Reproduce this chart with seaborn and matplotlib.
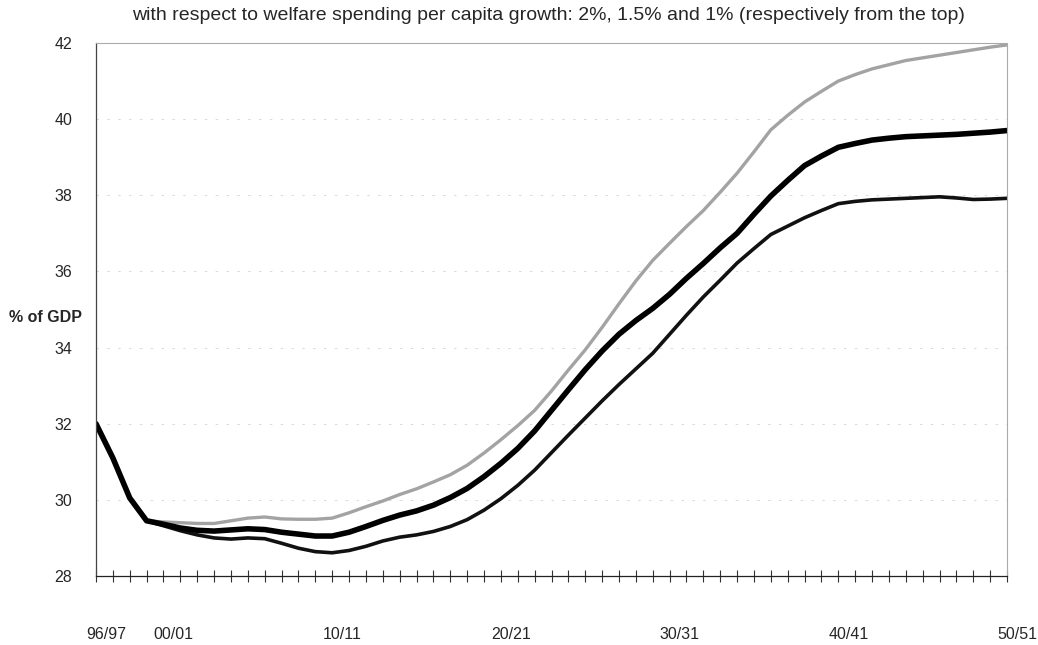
import numpy as np
import pandas as pd
import matplotlib
matplotlib.use("Agg")
import matplotlib.pyplot as plt
import seaborn as sns
from matplotlib.transforms import ScaledTranslation
from matplotlib.ticker import MultipleLocator

# ---- data ----
years = [f"{y % 100:02d}/{(y + 1) % 100:02d}" for y in range(1996, 2051)]

growth_2pct = [32.0, 31.1, 30.05, 29.45, 29.42, 29.4, 29.38, 29.38, 29.45, 29.52,
               29.55, 29.5, 29.49, 29.49, 29.52, 29.66, 29.82, 29.97, 30.14, 30.29,
               30.47, 30.66, 30.91, 31.23, 31.58, 31.95, 32.35, 32.86, 33.41, 33.94,
               34.53, 35.15, 35.75, 36.29, 36.74, 37.18, 37.6, 38.08, 38.58, 39.14,
               39.72, 40.1, 40.45, 40.73, 41.0, 41.17, 41.32, 41.43, 41.54, 41.61,
               41.68, 41.75, 41.82, 41.89, 41.95]

growth_15pct = [32.0, 31.1, 30.05, 29.45, 29.36, 29.26, 29.2, 29.18, 29.21, 29.24,
                29.22, 29.15, 29.1, 29.05, 29.05, 29.15, 29.3, 29.46, 29.6, 29.71,
                29.86, 30.06, 30.3, 30.61, 30.96, 31.35, 31.81, 32.35, 32.89, 33.42,
                33.91, 34.35, 34.71, 35.03, 35.4, 35.82, 36.21, 36.62, 37.0, 37.5,
                37.98, 38.39, 38.78, 39.03, 39.26, 39.36, 39.45, 39.5, 39.54, 39.56,
                39.58, 39.6, 39.63, 39.66, 39.7]

growth_1pct = [32.0, 31.1, 30.05, 29.45, 29.32, 29.19, 29.08, 29.0, 28.97, 29.0,
               28.98, 28.86, 28.73, 28.64, 28.61, 28.67, 28.78, 28.92, 29.02, 29.08,
               29.17, 29.3, 29.48, 29.73, 30.03, 30.38, 30.78, 31.24, 31.7, 32.15,
               32.6, 33.03, 33.44, 33.85, 34.35, 34.85, 35.33, 35.77, 36.22, 36.6,
               36.97, 37.19, 37.41, 37.6, 37.78, 37.84, 37.88, 37.9, 37.92, 37.94,
               37.96, 37.93, 37.89, 37.9, 37.92]

tick_labels = ["96/97", "00/01", "10/11", "20/21", "30/31", "40/41", "50/51"]
y_ticks = [28, 30, 32, 34, 36, 38, 40, 42]
title = ("with respect to welfare spending per capita growth: 2%, 1.5% and 1% "
         "(respectively from the top)")
ylabel = "% of GDP"

# ---- figure ----
sns.set_theme(style="white")
plt.rcParams["font.family"] = ["Liberation Sans", "DejaVu Sans"]

fig = plt.figure(figsize=(10.38, 6.45), dpi=100)
ax = fig.add_axes([96 / 1038, 1 - 576 / 645, (1007 - 96) / 1038, (576 - 43) / 645])

idx = np.arange(len(years))
df = pd.DataFrame({"idx": idx, "g2": growth_2pct, "g15": growth_15pct, "g1": growth_1pct})

sns.lineplot(data=df, x="idx", y="g2", ax=ax, color="#a3a3a3", linewidth=2.4)
sns.lineplot(data=df, x="idx", y="g1", ax=ax, color="#111111", linewidth=2.6)
sns.lineplot(data=df, x="idx", y="g15", ax=ax, color="#000000", linewidth=4.0)

ax.set_xlim(0, len(years) - 1)
ax.set_ylim(28, 42)
ax.set_yticks(y_ticks)
ax.set_yticklabels([str(v) for v in y_ticks], fontsize=11.5)

tick_pos = [years.index(t) for t in tick_labels]
ax.set_xticks(tick_pos)
ax.set_xticklabels(tick_labels, fontsize=11.5)
ax.xaxis.set_minor_locator(MultipleLocator(1))
ax.tick_params(axis="x", which="both", direction="inout", length=8, width=0.8,
               color="#333333", pad=33, bottom=True)
ax.tick_params(axis="y", which="both", length=0, pad=17)
offset = ScaledTranslation(10 / 100, 0, fig.dpi_scale_trans)
for lab in ax.get_xticklabels():
    lab.set_transform(lab.get_transform() + offset)

ax.set_xlabel("")
ax.set_ylabel("")
ax.grid(False)
for v in y_ticks[1:-1]:
    ax.axhline(v, color="#d4d4d4", linewidth=0.6, linestyle=(0, (3, 10)), zorder=0)

ax.spines["bottom"].set_color("#222222")
ax.spines["bottom"].set_linewidth(0.9)
ax.spines["left"].set_color("#444444")
ax.spines["left"].set_linewidth(0.9)
for s in ["top", "right"]:
    ax.spines[s].set_color("#aaaaaa")
    ax.spines[s].set_linewidth(0.8)
    ax.spines[s].set_linestyle((0, (2, 1)))

fig.text(548 / 1038, 1 - 15 / 645, title, ha="center", va="center", fontsize=14)
fig.text(82 / 1038, 1 - 317 / 645, ylabel, ha="right", va="center", fontsize=11.5,
         fontweight="bold")

fig.savefig("out.png", dpi=100)
